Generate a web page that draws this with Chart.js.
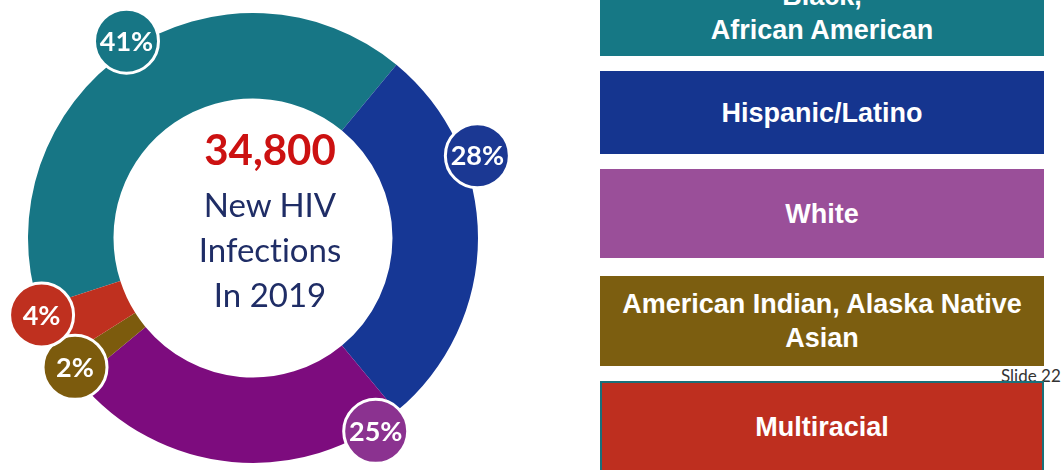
<!DOCTYPE html>
<html>
<head>
<meta charset="utf-8">
<script src="https://cdn.jsdelivr.net/npm/chart.js@4.4.1/dist/chart.umd.min.js"></script>
<style>
  html, body { margin: 0; padding: 0; background: #fff; }
  #wrap { position: relative; width: 1062px; height: 470px; overflow: hidden; }
  #chartBox { position: absolute; left: 0; top: 0; width: 540px; height: 470px; }
  #center { position: absolute; left: 170px; top: 128px; width: 200px; text-align: center; font-family: Lato, sans-serif;
            color: #1f2d66; font-variant-ligatures: none; }
  #center div { line-height: 1; white-space: nowrap; }
  #center .big { font-size: 42px; font-weight: 700; color: #cc1111; height: 42px; }
  #center .line { font-size: 33px; height: 33px; margin-top: 12px; }
  #center .line.first { margin-top: 18px; }
  .box { position: absolute; left: 600px; width: 444px; display: flex; align-items: center; justify-content: center;
         text-align: center; color: #fff; font-family: "Liberation Sans", Arial, sans-serif; font-weight: 700;
         font-size: 27px; line-height: 34px; box-sizing: border-box; z-index: 2; }
  #slideNo { position: absolute; left: 1001px; top: 365px; font-family: Lato, sans-serif; font-size: 17px; color: #333; z-index: 1; }
</style>
</head>
<body>
<div id="wrap">
  <div id="chartBox"><canvas id="raceChart"></canvas></div>
  <div id="center"></div>
  <div id="legend"></div>
  <div id="slideNo">Slide 22</div>
</div>
<script>
// New HIV infections in 2019 by race/ethnicity
const categories = ['Black,\nAfrican American', 'Hispanic/Latino', 'White', 'American Indian, Alaska Native\nAsian', 'Multiracial'];
const shares = [41, 28, 25, 2, 4];
const totalLabel = '34,800';
const centerLines = ['New HIV', 'Infections', 'In 2019'];

const sliceColors = ['#177685', '#163795', '#7d0c7e', '#7c5b0d', '#bf301f'];
const bubbleColors = ['#177685', '#1b3893', '#8b3290', '#7c5b0d', '#bf301f'];
const boxColors = ['#167885', '#15358f', '#9a4f99', '#7c5e10', '#be2f1f'];

// where each % bubble sits along its slice, and how far out from the ring edge
const bubbleAt = [0.51, 0.30, 0.08, 0.5, 0.86];
const bubbleOut = [9, 14, 4, -5, 0];

// legend boxes on the right
const boxTops = [-30, 71, 169, 276, 381];
const boxHeights = [86, 83, 89, 90, 92];

const bubblePlugin = {
    id: 'bubbles',
    afterDatasetsDraw(chart) {
        const ctx = chart.ctx;
        const meta = chart.getDatasetMeta(0);
        meta.data.forEach((arc, i) => {
            const p = arc.getProps(['x', 'y', 'startAngle', 'endAngle', 'outerRadius'], true);
            const a = p.startAngle + bubbleAt[i] * (p.endAngle - p.startAngle);
            const r = p.outerRadius + bubbleOut[i];
            const cx = p.x + Math.cos(a) * r;
            const cy = p.y + Math.sin(a) * r;
            ctx.save();
            ctx.beginPath();
            ctx.arc(cx, cy, 32, 0, Math.PI * 2);
            ctx.fillStyle = bubbleColors[i];
            ctx.fill();
            ctx.lineWidth = 3;
            ctx.strokeStyle = '#ffffff';
            ctx.stroke();
            ctx.fillStyle = '#ffffff';
            ctx.font = 'bold 27px Lato, sans-serif';
            ctx.textAlign = 'center';
            ctx.textBaseline = 'middle';
            ctx.fillText(shares[i] + '%', cx, cy + 1);
            ctx.restore();
        });
    }
};

document.addEventListener('DOMContentLoaded', function() {
    // Center text
    const center = document.getElementById('center');
    const big = document.createElement('div');
    big.className = 'big';
    big.textContent = totalLabel;
    center.appendChild(big);
    centerLines.forEach((t, i) => {
        const d = document.createElement('div');
        d.className = i === 0 ? 'line first' : 'line';
        d.textContent = t;
        center.appendChild(d);
    });

    // Legend boxes
    const legend = document.getElementById('legend');
    categories.forEach((name, i) => {
        const b = document.createElement('div');
        b.className = 'box';
        b.style.top = boxTops[i] + 'px';
        b.style.height = boxHeights[i] + 'px';
        b.style.background = boxColors[i];
        if (i === categories.length - 1) b.style.border = '2px solid #19707a';
        b.innerHTML = name.split('\n').join('<br>');
        legend.appendChild(b);
    });

    // Doughnut
    const ctx = document.getElementById('raceChart').getContext('2d');
    new Chart(ctx, {
        type: 'doughnut',
        data: {
            labels: categories.map(c => c.replace('\n', ' ')),
            datasets: [{
                data: shares,
                backgroundColor: sliceColors,
                borderWidth: 0,
                hoverOffset: 0
            }]
        },
        options: {
            responsive: true,
            maintainAspectRatio: false,
            animation: false,
            cutout: '62%',
            rotation: 252,
            layout: { padding: { left: 28, top: 13, right: 62, bottom: 7 } },
            plugins: {
                legend: { display: false },
                tooltip: { enabled: false }
            }
        },
        plugins: [bubblePlugin]
    });
});
</script>
</body>
</html>
